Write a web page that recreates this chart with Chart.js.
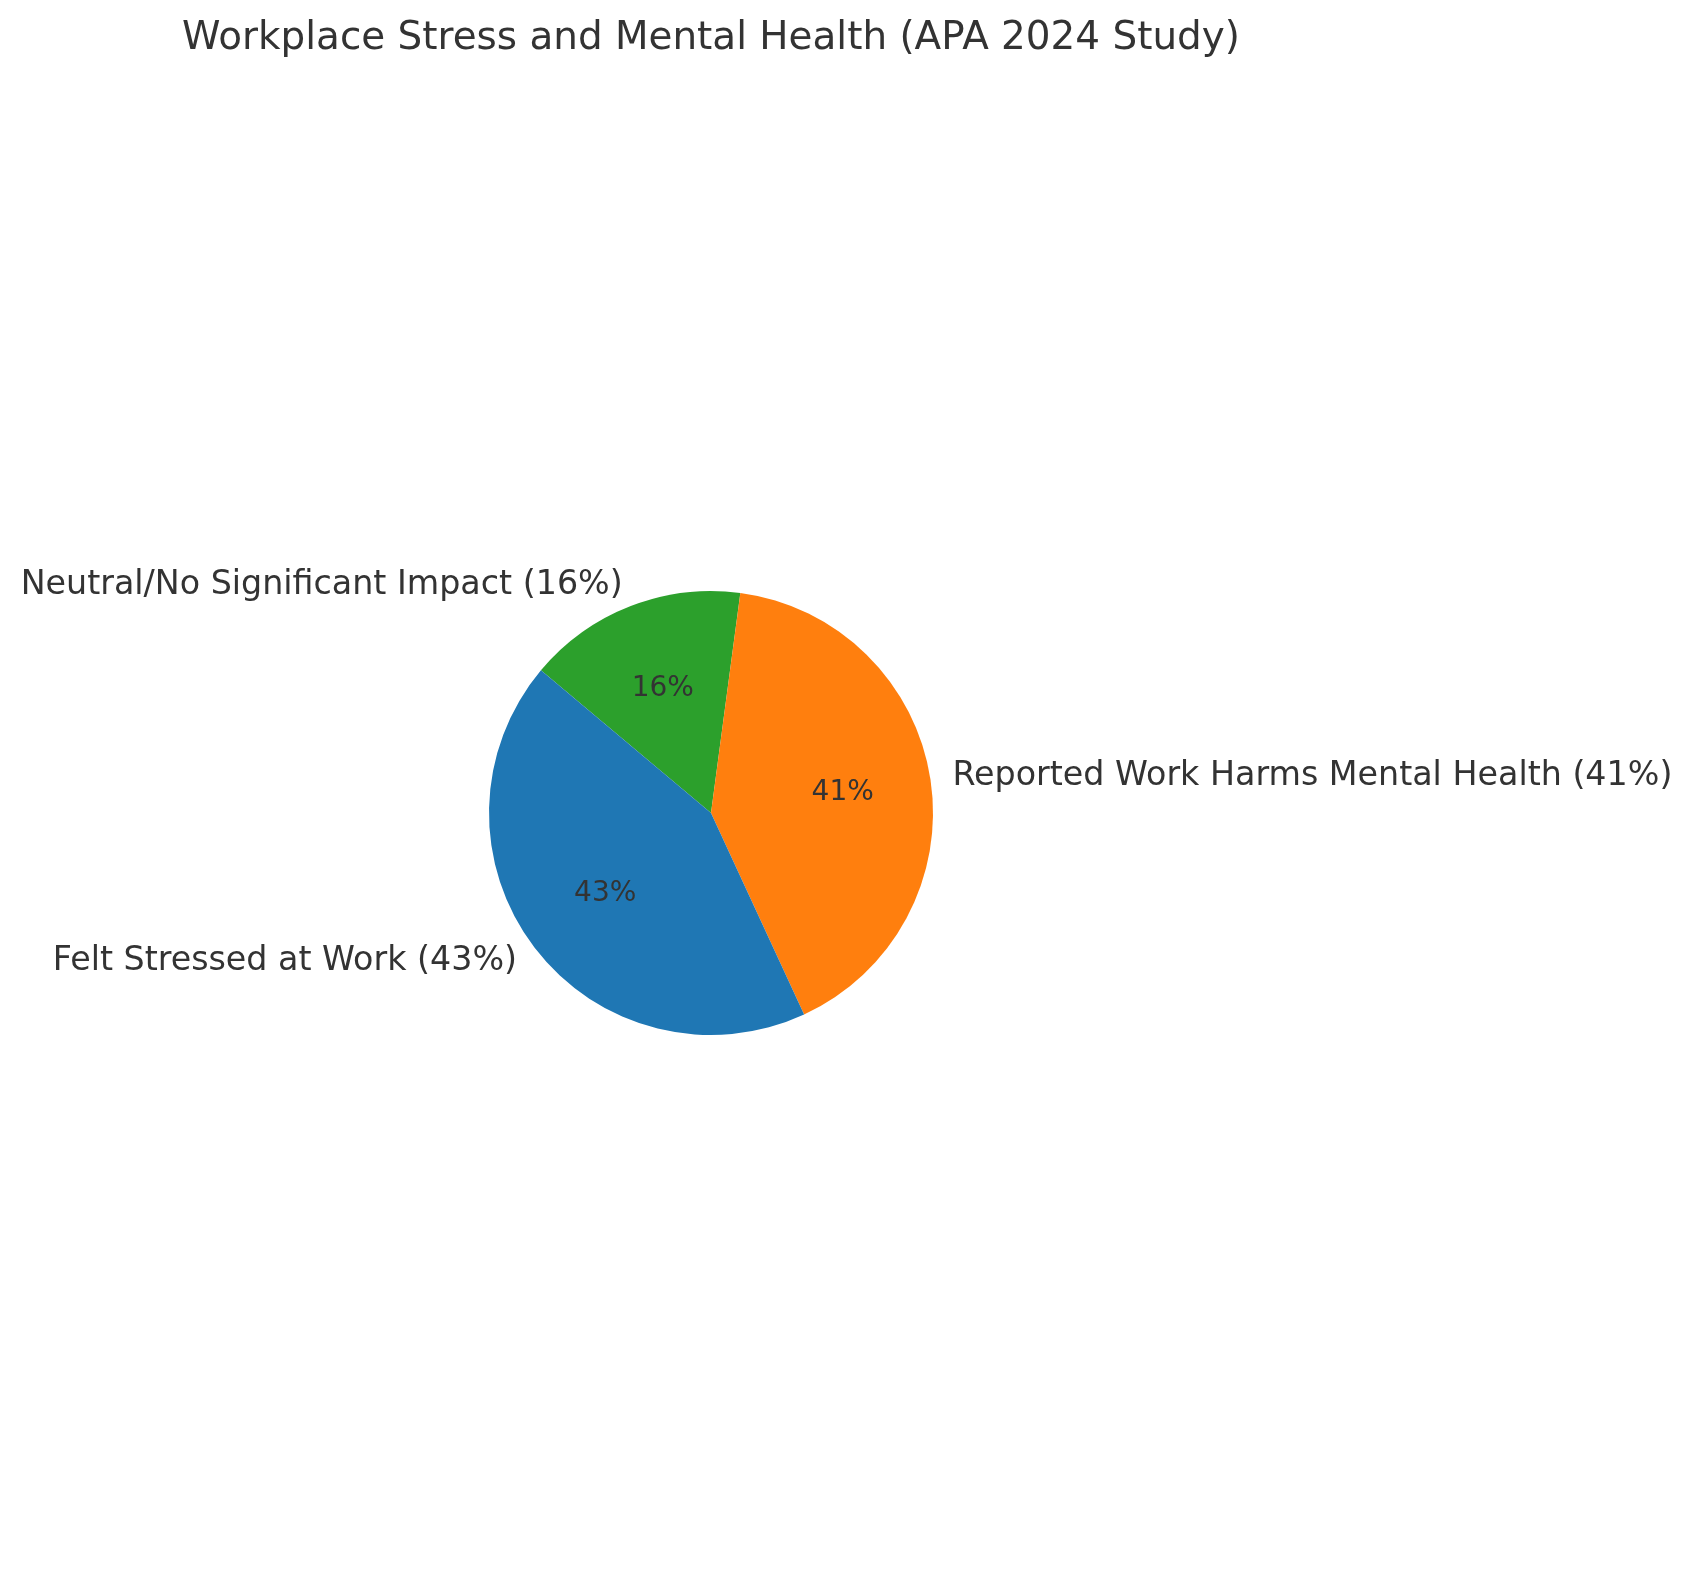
<!DOCTYPE html>
<html lang="en">
<head>
    <meta charset="UTF-8">
    <title>Workplace Stress and Mental Health</title>
    <style>
        body { margin: 0; background: #fff; }
    </style>
</head>
<body>
<script src="https://cdn.jsdelivr.net/npm/chart.js@4.4.1/dist/chart.umd.min.js"></script>
<canvas id="pie-chart" width="1694" height="1580"></canvas>

<script>
    var chartTitle = 'Workplace Stress and Mental Health (APA 2024 Study)';
    var categories = ['Felt Stressed at Work', 'Reported Work Harms Mental Health', 'Neutral/No Significant Impact'];
    var percents = [43, 41, 16];
    var sliceColors = ['#1f77b4', '#ff7f0e', '#2ca02c'];

    var textColor = '#333333';
    var fontFamily = '"DejaVu Sans", sans-serif';

    // matplotlib draws counter-clockwise from 140deg, chart.js goes clockwise,
    // so feed the slices in reverse order
    var order = [2, 1, 0];
    var labels = order.map(function (i) { return categories[i]; });
    var values = order.map(function (i) { return percents[i]; });
    var colors = order.map(function (i) { return sliceColors[i]; });

    var pieText = {
        id: 'pieText',
        afterDraw: function (chart) {
            var ctx = chart.ctx;
            var meta = chart.getDatasetMeta(0);
            ctx.save();
            ctx.fillStyle = textColor;
            ctx.textBaseline = 'middle';

            // title
            ctx.font = '38.9px ' + fontFamily;
            ctx.textAlign = 'center';
            ctx.fillText(chartTitle, (chart.chartArea.left + chart.chartArea.right) / 2, 39);

            meta.data.forEach(function (arc, i) {
                var mid = (arc.startAngle + arc.endAngle) / 2;
                var r = arc.outerRadius;
                var lx = arc.x + Math.cos(mid) * r * 1.1;
                var ly = arc.y + Math.sin(mid) * r * 1.1;
                ctx.font = '33.3px ' + fontFamily;
                ctx.textAlign = lx >= arc.x ? 'left' : 'right';
                ctx.fillText(labels[i] + ' (' + values[i] + '%)', lx, ly);

                var px = arc.x + Math.cos(mid) * r * 0.6;
                var py = arc.y + Math.sin(mid) * r * 0.6;
                ctx.font = '28px ' + fontFamily;
                ctx.textAlign = 'center';
                ctx.fillText(values[i] + '%', px, py);
            });
            ctx.restore();
        }
    };

    new Chart(document.getElementById('pie-chart'), {
        type: 'pie',
        data: {
            labels: labels,
            datasets: [{
                data: values,
                backgroundColor: colors,
                borderWidth: 0
            }]
        },
        options: {
            responsive: false,
            devicePixelRatio: 1,
            animation: false,
            rotation: -50,
            layout: {
                padding: { left: 489, right: 761, top: 591, bottom: 545 }
            },
            plugins: {
                legend: { display: false },
                title: { display: false },
                tooltip: { enabled: false }
            }
        },
        plugins: [pieText]
    });
</script>
</body>
</html>
